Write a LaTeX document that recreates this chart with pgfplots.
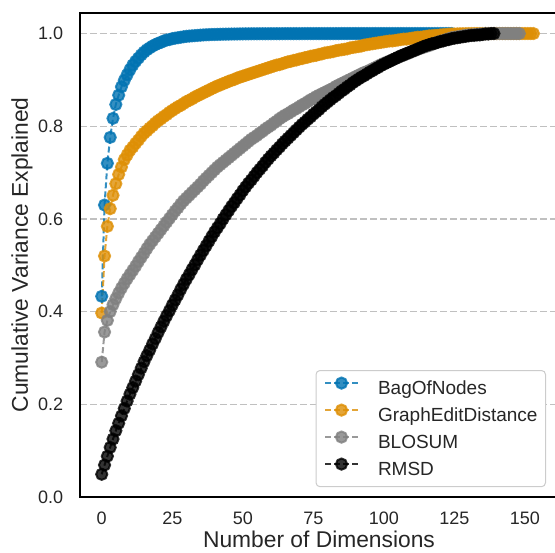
\documentclass[border=0pt]{standalone}
\usepackage{fontspec}
\setmainfont{Liberation Sans}
\usepackage{pgfplots}
\pgfplotsset{compat=1.18}
\usepackage{pgfplotstable}
\definecolor{cBlue}{HTML}{0173B2}
\definecolor{cOrange}{HTML}{DE8F05}
\definecolor{cGray}{HTML}{808080}
\definecolor{txt}{HTML}{262626}
\definecolor{gridc}{HTML}{C0C0C0}
\definecolor{legc}{HTML}{CCCCCC}

\pgfplotstableread[row sep=\\]{x y\\
0 .433\\1 .630\\2 .720\\3 .776\\4 .817\\5 .847\\6 .867\\7 .885\\8 .899\\9 .911\\
10 .922\\11 .932\\12 .940\\13 .947\\14 .954\\15 .960\\16 .965\\17 .969\\18 .973\\19 .976\\
20 .979\\21 .981\\22 .984\\23 .986\\24 .987\\25 .989\\26 .990\\27 .991\\28 .992\\29 .993\\
30 .994\\31 .9945\\32 .995\\33 .9955\\34 .996\\35 .9965\\36 .997\\37 .9973\\38 .9976\\39 .9979\\
40 .998\\41 .9982\\42 .9984\\43 .9986\\44 .9987\\45 .9988\\46 .9989\\47 .999\\48 .9991\\49 .9992\\
50 .9993\\51 .9994\\52 .9994\\53 .9995\\54 .9995\\55 .9995\\56 .9996\\57 .9996\\58 .9996\\59 .9996\\
60 .9997\\61 .9997\\62 .9997\\63 .9997\\64 .9997\\65 .9998\\66 .9998\\67 .9998\\68 .9998\\69 .9998\\
70 .9998\\71 .9998\\72 .9999\\73 .9999\\74 .9999\\75 .9999\\76 .9999\\77 .9999\\78 .9999\\79 .9999\\
80 .9999\\81 .9999\\82 .9999\\83 .9999\\84 .9999\\85 1\\86 1\\87 1\\88 1\\89 1\\
90 1\\91 1\\92 1\\93 1\\94 1\\95 1\\96 1\\97 1\\98 1\\99 1\\
100 1\\101 1\\102 1\\103 1\\104 1\\105 1\\106 1\\107 1\\108 1\\109 1\\
110 1\\111 1\\112 1\\113 1\\114 1\\115 1\\116 1\\117 1\\118 1\\119 1\\
120 1\\121 1\\122 1\\123 1\\124 1\\
}\bagofnodes

\pgfplotstableread[row sep=\\]{x y\\
0 .397\\1 .520\\2 .584\\3 .622\\4 .651\\5 .676\\6 .696\\7 .712\\8 .728\\9 .738\\
10 .748\\11 .755\\12 .763\\13 .770\\14 .778\\15 .785\\16 .790\\17 .796\\18 .801\\19 .807\\
20 .812\\21 .816\\22 .821\\23 .825\\24 .830\\25 .834\\26 .838\\27 .842\\28 .845\\29 .849\\
30 .853\\31 .856\\32 .859\\33 .863\\34 .866\\35 .869\\36 .872\\37 .875\\38 .878\\39 .881\\
40 .884\\41 .887\\42 .889\\43 .892\\44 .894\\45 .897\\46 .899\\47 .901\\48 .904\\49 .906\\
50 .908\\51 .910\\52 .912\\53 .914\\54 .916\\55 .918\\56 .920\\57 .922\\58 .924\\59 .926\\
60 .928\\61 .930\\62 .932\\63 .933\\64 .935\\65 .937\\66 .939\\67 .940\\68 .942\\69 .943\\
70 .945\\71 .946\\72 .948\\73 .949\\74 .951\\75 .952\\76 .953\\77 .955\\78 .956\\79 .958\\
80 .959\\81 .960\\82 .961\\83 .963\\84 .964\\85 .965\\86 .966\\87 .967\\88 .969\\89 .970\\
90 .971\\91 .972\\92 .973\\93 .975\\94 .976\\95 .977\\96 .978\\97 .979\\98 .980\\99 .981\\
100 .982\\101 .983\\102 .984\\103 .984\\104 .985\\105 .986\\106 .987\\107 .988\\108 .988\\109 .989\\
110 .990\\111 .991\\112 .992\\113 .992\\114 .993\\115 .994\\116 .995\\117 .995\\118 .996\\119 .996\\
120 .997\\121 .9975\\122 .998\\123 .9985\\124 .999\\125 .999\\126 .9993\\127 .9995\\128 .9996\\129 .9997\\
130 .9998\\131 .9999\\132 1\\133 1\\134 1\\135 1\\136 1\\137 1\\138 1\\139 1\\
140 1\\141 1\\142 1\\143 1\\144 1\\145 1\\146 1\\147 1\\148 1\\149 1\\
150 1\\151 1\\152 1\\153 1\\
}\graphedit

\pgfplotstableread[row sep=\\]{x y\\
0 .291\\1 .356\\2 .381\\3 .400\\4 .415\\5 .428\\6 .440\\7 .451\\8 .461\\9 .471\\
10 .480\\11 .489\\12 .498\\13 .508\\14 .517\\15 .526\\16 .536\\17 .545\\18 .553\\19 .561\\
20 .569\\21 .577\\22 .585\\23 .593\\24 .601\\25 .609\\26 .617\\27 .624\\28 .632\\29 .639\\
30 .645\\31 .651\\32 .657\\33 .663\\34 .669\\35 .675\\36 .682\\37 .688\\38 .694\\39 .700\\
40 .706\\41 .712\\42 .717\\43 .722\\44 .727\\45 .732\\46 .737\\47 .742\\48 .747\\49 .752\\
50 .757\\51 .762\\52 .767\\53 .772\\54 .776\\55 .780\\56 .785\\57 .789\\58 .794\\59 .798\\
60 .802\\61 .807\\62 .811\\63 .816\\64 .820\\65 .824\\66 .827\\67 .831\\68 .835\\69 .838\\
70 .842\\71 .846\\72 .849\\73 .853\\74 .857\\75 .860\\76 .864\\77 .867\\78 .870\\79 .873\\
80 .876\\81 .879\\82 .882\\83 .886\\84 .889\\85 .892\\86 .895\\87 .898\\88 .901\\89 .904\\
90 .907\\91 .910\\92 .913\\93 .916\\94 .918\\95 .921\\96 .924\\97 .927\\98 .930\\99 .933\\
100 .936\\101 .938\\102 .941\\103 .943\\104 .946\\105 .948\\106 .951\\107 .953\\108 .956\\109 .958\\
110 .961\\111 .963\\112 .966\\113 .968\\114 .970\\115 .972\\116 .974\\117 .976\\118 .979\\119 .981\\
120 .983\\121 .985\\122 .987\\123 .989\\124 .991\\125 .992\\126 .993\\127 .994\\128 .995\\129 .996\\
130 .997\\131 .997\\132 .998\\133 .998\\134 .999\\135 .999\\136 1\\137 1\\138 1\\139 1\\
140 1\\141 1\\142 1\\143 1\\144 1\\145 1\\146 1\\147 1\\148 1\\
}\blosum

\pgfplotstableread[row sep=\\]{x y\\
0 .049\\1 .069\\2 .088\\3 .107\\4 .125\\5 .143\\6 .159\\7 .175\\8 .191\\9 .207\\
10 .222\\11 .236\\12 .250\\13 .264\\14 .278\\15 .292\\16 .305\\17 .317\\18 .330\\19 .342\\
20 .355\\21 .367\\22 .379\\23 .391\\24 .402\\25 .414\\26 .425\\27 .436\\28 .448\\29 .459\\
30 .470\\31 .480\\32 .491\\33 .501\\34 .512\\35 .522\\36 .532\\37 .542\\38 .552\\39 .562\\
40 .572\\41 .581\\42 .590\\43 .600\\44 .609\\45 .618\\46 .627\\47 .635\\48 .644\\49 .652\\
50 .661\\51 .669\\52 .677\\53 .684\\54 .692\\55 .700\\56 .707\\57 .714\\58 .722\\59 .729\\
60 .736\\61 .742\\62 .749\\63 .755\\64 .762\\65 .768\\66 .774\\67 .780\\68 .786\\69 .792\\
70 .798\\71 .804\\72 .809\\73 .815\\74 .820\\75 .826\\76 .831\\77 .836\\78 .842\\79 .847\\
80 .852\\81 .857\\82 .862\\83 .866\\84 .871\\85 .876\\86 .880\\87 .885\\88 .889\\89 .894\\
90 .898\\91 .902\\92 .906\\93 .909\\94 .913\\95 .917\\96 .920\\97 .924\\98 .927\\99 .931\\
100 .934\\101 .937\\102 .940\\103 .943\\104 .946\\105 .949\\106 .952\\107 .954\\108 .957\\109 .959\\
110 .962\\111 .964\\112 .967\\113 .969\\114 .972\\115 .974\\116 .976\\117 .978\\118 .979\\119 .981\\
120 .983\\121 .984\\122 .986\\123 .987\\124 .989\\125 .990\\126 .991\\127 .992\\128 .993\\129 .994\\
130 .995\\131 .996\\132 .996\\133 .997\\134 .997\\135 .998\\136 .999\\137 .999\\138 1\\139 1\\
}\rmsd

\begin{document}
\begin{tikzpicture}
\useasboundingbox (-80pt,-56pt) rectangle (475pt,497pt);
\begin{axis}[
  at={(0pt,0pt)}, anchor=south west,
  scale only axis, width=478pt, height=484.3pt,
  xmin=-7.7, xmax=161.7, ymin=0, ymax=1.045,
  xtick={0,25,50,75,100,125,150},
  ytick={0,0.2,0.4,0.6,0.8,1.0},
  major tick length=0pt,
  ymajorgrids,
  grid style={gridc, line width=1.2pt, dash pattern=on 7pt off 3pt},
  axis line style={black, line width=2.2pt},
  /pgf/number format/assume math mode=true,
  tick label style={font=\fontsize{18}{20}\selectfont, text=txt},
  yticklabel style={/pgf/number format/.cd, fixed, fixed zerofill, precision=1, /tikz/.cd, anchor=east, inner sep=0pt, xshift=-16.7pt},
  xticklabel style={anchor=base, inner sep=0pt, yshift=-28pt},
  xlabel={Number of Dimensions},
  ylabel={Cumulative Variance Explained},
  label style={font=\fontsize{22.8}{25}\selectfont, text=txt},
  xlabel style={at={(axis description cs:0.5,-0.1035)}, anchor=base, inner sep=0pt},
  ylabel style={at={(axis description cs:-0.1088,0.5)}, anchor=base, inner sep=0pt},
  legend style={at={(0.9749,0.2622)}, anchor=north east, draw=legc, line width=1pt,
    rounded corners=4pt, fill=white, font=\fontsize{19}{21}\selectfont, text=txt,
    inner xsep=8pt, inner ysep=7pt, row sep=5.8pt,
    nodes={inner sep=0pt, text height=13.6pt, text depth=4pt},
    /tikz/every odd column/.append style={column sep=19pt}},
  legend cell align=left,
  legend image code/.code={\draw[#1, mark repeat=2, mark phase=2, mark options={solid, draw=none}] plot coordinates {(0pt,6.8pt) (16.5pt,6.8pt) (33pt,6.8pt)};},
  every axis plot/.append style={line width=2pt, dash pattern=on 6pt off 3pt, opacity=0.8, mark=*, mark size=5.6pt},
]
\addplot[cBlue, mark options={solid, draw=none, fill=cBlue, fill opacity=0.8}] table[x=x,y=y]{\bagofnodes};
\addplot[cOrange, mark options={solid, draw=none, fill=cOrange, fill opacity=0.8}] table[x=x,y=y]{\graphedit};
\addplot[cGray, mark options={solid, draw=none, fill=cGray, fill opacity=0.8}] table[x=x,y=y]{\blosum};
\addplot[black, mark options={solid, draw=none, fill=black, fill opacity=0.8}] table[x=x,y=y]{\rmsd};
\legend{BagOfNodes, GraphEditDistance, BLOSUM, RMSD}
\end{axis}
\end{tikzpicture}
\end{document}
